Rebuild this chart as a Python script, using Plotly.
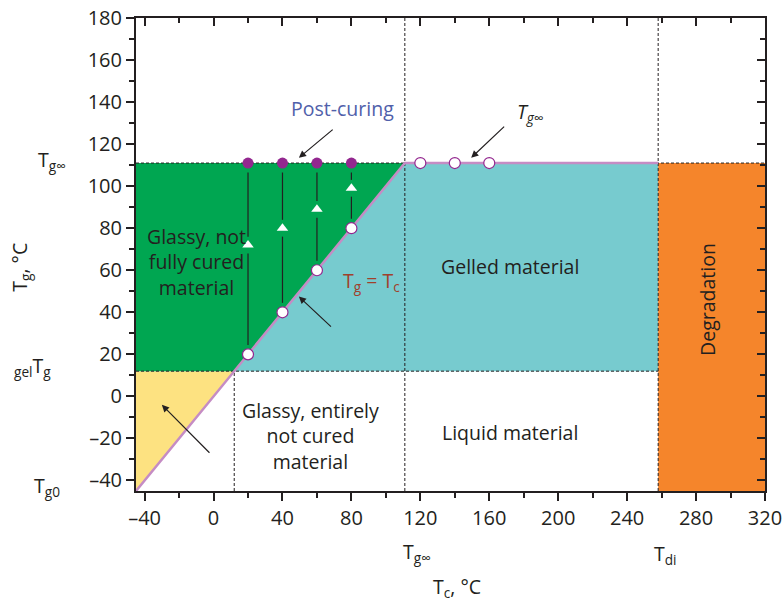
import plotly.graph_objects as go

# ---- key temperatures (°C) ----
TG0 = -45
GEL_TG = 12
TG_INF = 111
TDI = 258
X_MAX = 320
Y_MAX = 180

# ---- post-curing experiment points ----
cure_T = [20, 40, 60, 80]            # curing temperature Tc
tg_after_cure = [20, 40, 60, 80]     # open circles on Tg = Tc
tg_mid = [72, 80, 89, 99]            # triangles
tg_post = [111, 111, 111, 111]       # filled circles after post-curing
high_T = [120, 140, 160]             # open circles on Tg∞ plateau
high_tg = [111, 111, 111]

x_ticks = [-40, 0, 40, 80, 120, 160, 200, 240, 280, 320]
y_ticks = [-40, -20, 0, 20, 40, 60, 80, 100, 120, 140, 160, 180]

FONT = "Open Sans"
TXT = "#231F20"
GREEN = "#00A651"
CYAN = "#77CBCF"
YELLOW = "#FDE281"
ORANGE = "#F5852B"
PINK = "#C58CC4"
PURPLE = "#93278F"
FS = 19.5

fig = go.Figure()

def poly(xs, ys, color):
    fig.add_trace(go.Scatter(x=xs, y=ys, fill="toself", fillcolor=color, mode="lines",
                             line=dict(width=0, color=color), hoverinfo="skip", showlegend=False))

# regions
poly([TG0, TG0, GEL_TG], [TG0, GEL_TG, GEL_TG], YELLOW)
poly([TG0, TG0, TG_INF, GEL_TG], [GEL_TG, TG_INF, TG_INF, GEL_TG], GREEN)
poly([GEL_TG, TG_INF, TDI, TDI], [GEL_TG, TG_INF, TG_INF, GEL_TG], CYAN)
poly([TDI, TDI, X_MAX, X_MAX], [TG0, TG_INF, TG_INF, TG0], ORANGE)

def dashed(xs, ys):
    fig.add_trace(go.Scatter(x=xs, y=ys, mode="lines",
                             line=dict(color="#231F20", width=1, dash="3px,2px"),
                             hoverinfo="skip", showlegend=False))

dashed([TG0, X_MAX], [TG_INF, TG_INF])
dashed([TG0, TDI], [GEL_TG, GEL_TG])
dashed([GEL_TG, GEL_TG], [TG0, GEL_TG])
dashed([TG_INF, TG_INF], [TG0, Y_MAX])
dashed([TDI, TDI], [TG0, Y_MAX])

# Tg = Tc line and plateau
fig.add_trace(go.Scatter(x=[TG0, TG_INF, TDI], y=[TG0, TG_INF, TG_INF], mode="lines",
                         line=dict(color=PINK, width=2.5), hoverinfo="skip", showlegend=False))

# vertical post-curing paths (segments with small gaps around markers)
vx, vy = [], []
for x, a, m, b in zip(cure_T, tg_after_cure, tg_mid, tg_post):
    vx += [x, x, None, x, x, None]
    vy += [a + 4.5, m - 4, None, m + 4, b - 4.5, None]
fig.add_trace(go.Scatter(x=vx, y=vy, mode="lines", line=dict(color="#231F20", width=1.2),
                         hoverinfo="skip", showlegend=False))

# markers
fig.add_trace(go.Scatter(x=cure_T, y=tg_post, mode="markers",
                         marker=dict(color=PURPLE, size=11, line=dict(width=0)), showlegend=False))
fig.add_trace(go.Scatter(x=cure_T, y=tg_mid, mode="markers",
                         marker=dict(symbol="triangle-up", color="white", size=10, line=dict(width=0)),
                         showlegend=False))
fig.add_trace(go.Scatter(x=cure_T + high_T, y=tg_after_cure + high_tg, mode="markers",
                         marker=dict(color="white", size=11, line=dict(width=1.2, color=PURPLE)),
                         showlegend=False))

# dummy trace for the mirrored (inside-tick) axes
fig.add_trace(go.Scatter(x=[None], y=[None], xaxis="x2", yaxis="y2", showlegend=False, hoverinfo="skip"))

ann = []
def text(x, y, t, size=FS, color=TXT, xref="x", yref="y", angle=0, xanchor="center", yanchor="middle"):
    ann.append(dict(x=x, y=y, text=t, xref=xref, yref=yref, showarrow=False, textangle=angle,
                    xanchor=xanchor, yanchor=yanchor, font=dict(family=FONT, size=size, color=color)))

def arrow(x0, y0, x1, y1):
    ann.append(dict(x=x1, y=y1, ax=x0, ay=y0, xref="x", yref="y", axref="x", ayref="y", text="",
                    showarrow=True, arrowhead=2, arrowsize=1.2, arrowwidth=1.2, arrowcolor="#231F20"))

text(-10, 64, "Glassy, not<br>fully cured<br>material")
text(172, 62, "Gelled material")
text(56.5, -19, "Glassy, entirely<br>not cured<br>material")
text(172, -17, "Liquid material")
text(286.5, 46, "Degradation", angle=-90)
text(75, 137, "Post-curing", color="#5060AA")
text(184, 135, "<i>T<sub>g∞</sub></i>")
text(91.5, 54.5, "T<sub>g</sub> = T<sub>c</sub>", color="#A0402C")

arrow(70, 127.5, 49.5, 113.5)
arrow(169.5, 129, 149.5, 113.5)
arrow(69, 32.5, 49.5, 47.5)
arrow(-1.5, -27.5, -30, -4)

# extra axis labels
text(-0.133, TG_INF + 1, "T<sub>g∞</sub>", xref="paper")
text(-0.165, GEL_TG + 2, "<sub>gel</sub>T<sub>g</sub>", xref="paper")
text(-0.142, -43, "T<sub>g0</sub>", xref="paper")
text(-0.183, 0.474, "T<sub>g</sub>, °C", xref="paper", yref="paper", angle=-90)
text(118, -0.131, "T<sub>g∞</sub>", yref="paper")
text(262, -0.135, "T<sub>di</sub>", yref="paper")
text(141, -0.205, "T<sub>c</sub>, °C", yref="paper")

tick_font = dict(size=20, family=FONT, color=TXT)
fig.update_layout(
    width=784, height=601,
    margin=dict(l=136, r=19, t=18, b=110, autoexpand=False),
    paper_bgcolor="white", plot_bgcolor="white",
    showlegend=False,
    annotations=ann,
    font=dict(family=FONT, size=FS, color=TXT),
    xaxis=dict(range=[TG0, X_MAX], tickvals=x_ticks, ticktext=[str(v).replace("-", "–") for v in x_ticks],
               ticks="outside", ticklen=8, tickwidth=1.5, tickcolor="#231F20", automargin=False,
               minor=dict(ticks="outside", dtick=20, tick0=0, ticklen=5, tickwidth=1.5, tickcolor="#231F20"),
               showline=True, linecolor="#231F20", linewidth=2, mirror=True,
               showgrid=False, zeroline=False, tickfont=tick_font),
    yaxis=dict(range=[TG0, Y_MAX], tickvals=y_ticks, ticktext=[str(v).replace("-", "–") for v in y_ticks],
               ticks="outside", ticklen=8, tickwidth=1.5, tickcolor="#231F20", automargin=False,
               minor=dict(ticks="outside", dtick=10, tick0=0, ticklen=5, tickwidth=1.5, tickcolor="#231F20"),
               showline=True, linecolor="#231F20", linewidth=2, mirror=True,
               showgrid=False, zeroline=False, tickfont=tick_font),
    xaxis2=dict(range=[TG0, X_MAX], overlaying="x", side="top", anchor="y", tickvals=x_ticks,
                showticklabels=False, ticks="inside", ticklen=8, tickwidth=1.5, tickcolor="#231F20",
                automargin=False,
                minor=dict(ticks="inside", dtick=20, tick0=0, ticklen=5, tickwidth=1.5, tickcolor="#231F20"),
                showgrid=False, zeroline=False, showline=False),
    yaxis2=dict(range=[TG0, Y_MAX], overlaying="y", side="right", anchor="x", tickvals=y_ticks,
                showticklabels=False, ticks="inside", ticklen=8, tickwidth=1.5, tickcolor="#231F20",
                automargin=False,
                minor=dict(ticks="inside", dtick=10, tick0=0, ticklen=5, tickwidth=1.5, tickcolor="#231F20"),
                showgrid=False, zeroline=False, showline=False),
)

fig.write_html("out.html", config={"displayModeBar": False},
               post_script="document.body.style.margin='0';document.body.style.overflow='hidden';")
